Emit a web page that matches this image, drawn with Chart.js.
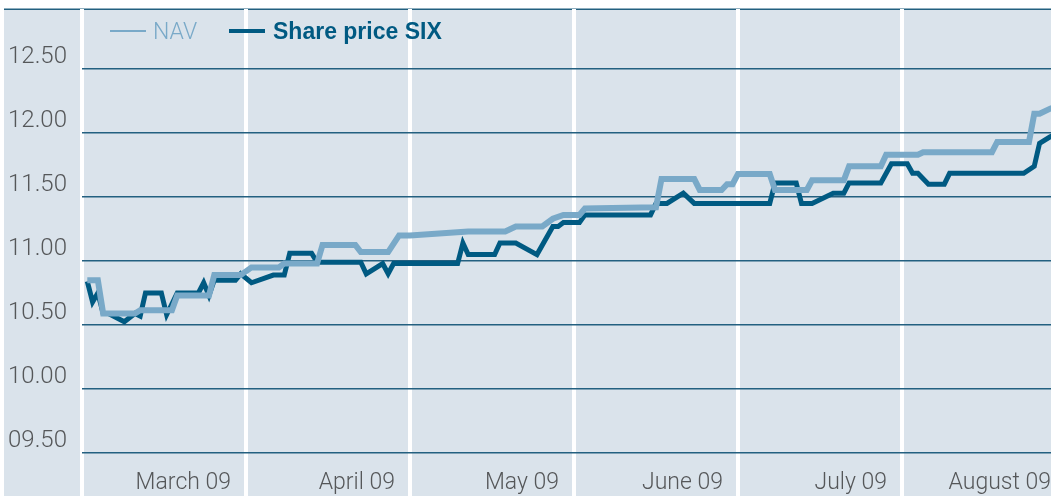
<!DOCTYPE html>
<html>
<head>
<meta charset="utf-8">
<script src="https://cdn.jsdelivr.net/npm/chart.js@4"></script>
<style>
  html, body { margin: 0; padding: 0; background: #fff; }
  #wrap { width: 1051px; height: 496px; }
</style>
</head>
<body>
<div id="wrap"><canvas id="chart" width="1051" height="496"></canvas></div>
<script>
// months shown on the x axis (one band each)
const months = ["March 09", "April 09", "May 09", "June 09", "July 09", "August 09"];
const yTicks = [9.5, 10, 10.5, 11, 11.5, 12, 12.5];

// NAV (MM-DD of 2009)
const navDates = ["03-02","03-04","03-05","03-11","03-12","03-18","03-19","03-25","03-26","03-31",
  "04-02","04-07","04-08","04-14","04-15","04-21","04-22","04-27","04-29",
  "05-01","05-12","05-19","05-21","05-26","05-28","05-30",
  "06-02","06-03","06-08","06-16","06-17","06-23","06-24","06-28","06-29","06-30",
  "07-01","07-07","07-08","07-14","07-15","07-21","07-22","07-28","07-29",
  "08-04","08-05","08-18","08-19","08-25","08-26","08-27","08-29","08-31"];
const navValues = [10.85,10.85,10.59,10.59,10.615,10.615,10.73,10.73,10.89,10.89,
  10.95,10.95,10.98,10.98,11.125,11.125,11.07,11.07,11.20,
  11.20,11.23,11.23,11.27,11.27,11.33,11.36,
  11.36,11.41,11.415,11.42,11.64,11.64,11.555,11.555,11.60,11.60,
  11.68,11.68,11.555,11.555,11.63,11.63,11.74,11.74,11.83,
  11.83,11.85,11.85,11.93,11.93,12.15,12.15,12.19,12.22];

// Share price SIX
const shareDates = ["03-02","03-03","03-04","03-05","03-06","03-09","03-11","03-12","03-13","03-16","03-17","03-19",
  "03-23","03-24","03-25","03-26","03-30","03-31",
  "04-02","04-06","04-08","04-09","04-13","04-14","04-22","04-23","04-26","04-27","04-28",
  "05-10","05-11","05-12","05-17","05-18","05-21","05-25","05-28","05-29","05-30",
  "06-02","06-03","06-15","06-16","06-18","06-21","06-23",
  "07-07","07-08","07-12","07-13","07-15","07-19","07-21","07-22","07-28","07-30",
  "08-02","08-03","08-04","08-06","08-09","08-10","08-24","08-26","08-27","08-29","08-31"];
const shareValues = [10.84,10.68,10.75,10.59,10.59,10.525,10.59,10.57,10.75,10.75,10.58,10.75,
  10.75,10.83,10.73,10.85,10.85,10.90,
  10.83,10.89,10.89,11.06,11.06,10.99,10.99,10.90,10.98,10.90,10.98,
  10.98,11.14,11.05,11.05,11.14,11.14,11.05,11.27,11.27,11.30,
  11.30,11.36,11.36,11.45,11.45,11.53,11.45,
  11.45,11.61,11.61,11.45,11.45,11.53,11.53,11.61,11.61,11.76,
  11.76,11.685,11.685,11.60,11.60,11.685,11.685,11.74,11.92,11.97,12.00];

const bgColor = "#dae3eb";
const gridColor = "#236080";
const navColor = "#79a9c8";
const shareColor = "#005a82";
const textColor = "#555759";

// month band position: March = 0 .. August = 5
function monthPos(d) {
  const parts = d.split("-").map(Number);
  const days = new Date(2009, parts[0], 0).getDate();
  return (parts[0] - 3) + (parts[1] - 1) / days;
}

function toPoints(dates, values) {
  return dates.map(function (d, i) { return { x: monthPos(d), y: values[i] }; });
}

function noPadding(scale) {
  scale.paddingTop = 0;
  scale.paddingBottom = 0;
  scale.paddingLeft = 0;
  scale.paddingRight = 0;
}

const backdrop = {
  id: "backdrop",
  beforeDraw: function (chart) {
    const c = chart.ctx;
    c.save();
    c.fillStyle = "#ffffff";
    c.fillRect(0, 0, chart.width, chart.height);
    c.fillStyle = bgColor;
    c.fillRect(4, 9, chart.width - 4, chart.height - 9);
    c.fillStyle = gridColor;
    c.fillRect(4, 8.5, chart.width - 4, 1.5);
    c.restore();
  },
  afterDraw: function (chart) {
    const c = chart.ctx;
    c.save();
    c.lineCap = "butt";
    c.strokeStyle = navColor;
    c.lineWidth = 2;
    c.beginPath(); c.moveTo(110, 31); c.lineTo(146, 31); c.stroke();
    c.strokeStyle = shareColor;
    c.lineWidth = 4;
    c.beginPath(); c.moveTo(229, 31); c.lineTo(265, 31); c.stroke();
    c.textBaseline = "alphabetic";
    c.fillStyle = navColor;
    c.font = "300 23px Roboto";
    c.fillText("NAV", 153, 38.5);
    c.fillStyle = shareColor;
    c.font = "bold 23px 'Liberation Sans'";
    c.fillText("Share price SIX", 273, 38.5);
    c.restore();
  }
};

new Chart(document.getElementById("chart"), {
  type: "line",
  data: {
    datasets: [
      {
        label: "Share price SIX",
        data: toPoints(shareDates, shareValues),
        borderColor: shareColor,
        borderWidth: 5,
        pointRadius: 0,
        tension: 0,
        order: 2
      },
      {
        label: "NAV",
        data: toPoints(navDates, navValues),
        borderColor: navColor,
        borderWidth: 6,
        pointRadius: 0,
        tension: 0,
        order: 1
      }
    ]
  },
  options: {
    responsive: false,
    animation: false,
    layout: { padding: { left: 8, top: 9, right: 0, bottom: 0 } },
    plugins: {
      legend: { display: false },
      tooltip: { enabled: false }
    },
    scales: {
      x: {
        type: "linear",
        min: 0,
        max: 969 / 164,
        afterFit: function (scale) { scale.height = 0; noPadding(scale); },
        border: { display: false },
        grid: { color: "#ffffff", lineWidth: 4, drawTicks: false },
        ticks: {
          stepSize: 1,
          includeBounds: false,
          autoSkip: false,
          maxRotation: 0,
          mirror: true,
          align: "end",
          labelOffset: 149,
          padding: -1,
          color: textColor,
          font: { family: "Roboto", size: 23, weight: "300" },
          callback: function (value) { return months[value]; }
        }
      },
      y: {
        min: 9.5 - 43 / 128,
        max: 12.5 + 60 / 128,
        afterFit: function (scale) { scale.width = 74; noPadding(scale); },
        afterBuildTicks: function (scale) {
          scale.ticks = yTicks.map(function (v) { return { value: v }; });
        },
        border: { display: false },
        grid: { color: gridColor, lineWidth: 1.5, drawTicks: false },
        ticks: {
          crossAlign: "far",
          labelOffset: -12,
          color: textColor,
          font: { family: "Roboto", size: 24, weight: "300" },
          callback: function (value) { return (value < 10 ? "0" : "") + value.toFixed(2); }
        }
      }
    }
  },
  plugins: [backdrop]
});
</script>
</body>
</html>
